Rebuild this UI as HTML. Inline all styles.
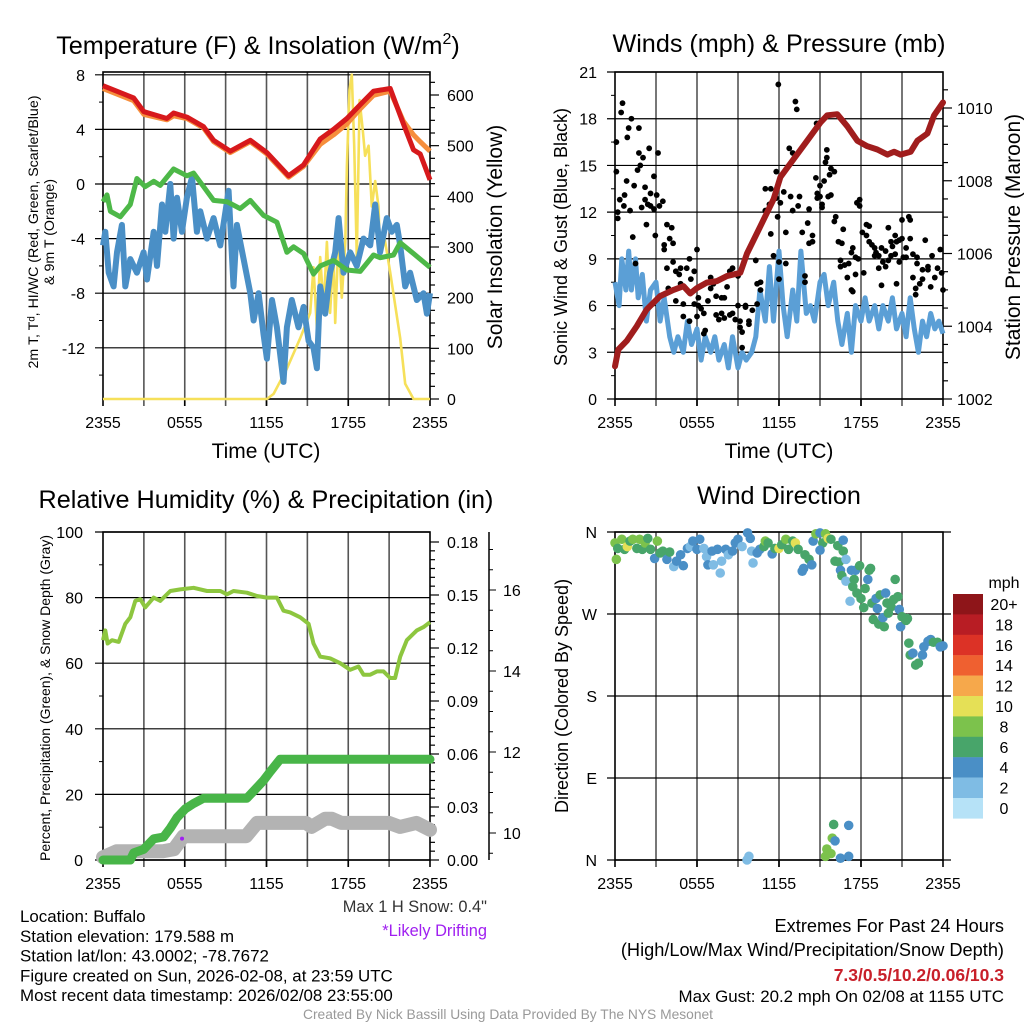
<!DOCTYPE html>
<html><head><meta charset="utf-8"><style>
html,body{margin:0;padding:0;background:#fff;}
svg{display:block;font-family:"Liberation Sans",sans-serif;}
.nar{font-family:"Liberation Sans Narrow","Liberation Sans",sans-serif;}
</style></head><body>
<svg id="fig" width="1024" height="1024" viewBox="0 0 1024 1024" xmlns="http://www.w3.org/2000/svg">
<rect x="0" y="0" width="1024" height="1024" fill="#fff"/>
<g id="root"></g>
</svg>
<script>
// ---------------- DATA ----------------
const xTickLabels = ["2355","0555","1155","1755","2355"];
// Temperature panel
const tempT = [0,2.25,3,4.69,5.18,6.16,7.38,8.12,9.34,10.81,12.03,13.62,14.72,15.94,16.92,17.9,18.88,19.85,21.08,22.05,22.79,23.28,24];
const tempV = [7.2,6.3,5.3,4.8,5.2,4.9,4.2,3.2,2.4,3.2,2.3,0.6,1.4,3.3,4.0,4.8,5.8,6.8,7.0,4.4,2.5,2.2,0.3];
const t9T = [0,2.25,3,4.69,5.18,6.16,7.38,8.12,9.34,10.81,12.03,13.62,14.72,15.94,16.92,17.9,18.88,19.85,21.08,22.05,22.79,23.28,24];
const t9V = [7.0,6.1,5.1,4.7,5.0,4.8,4.1,3.1,2.3,3.1,2.2,0.5,1.3,2.9,3.6,4.4,5.5,6.5,6.8,4.6,3.6,3.1,2.4];
const tdT = [0,0.29,0.54,1.27,2.0,2.49,3.1,3.72,4.2,5.18,6.16,6.65,7.38,8.12,9.1,10.07,10.81,11.78,12.76,13.5,13.99,14.72,15.45,15.94,16.92,17.9,18.88,19.85,20.34,21.32,21.81,22.79,24];
const tdV = [-1.3,-0.8,-2.0,-2.4,-1.5,0.4,-0.2,0.2,-0.1,1.1,0.6,0.8,-0.2,-1.2,-1.3,-1.8,-1.2,-2.3,-2.8,-5.0,-4.6,-5.1,-6.6,-6.0,-5.6,-6.3,-6.4,-5.2,-5.4,-5.2,-4.3,-5.1,-6.1];
const wcT = [0,0.17,0.42,0.78,1.03,1.39,1.64,2.0,2.49,2.98,3.23,3.72,3.96,4.33,4.57,4.94,5.18,5.43,5.79,6.16,6.53,6.89,7.14,7.63,8.12,8.61,9.22,9.58,9.83,10.32,10.81,11.05,11.42,11.78,12.03,12.4,12.76,13.25,13.5,13.86,14.35,14.72,15.09,15.45,15.7,15.94,16.31,16.67,17.04,17.29,17.65,18.14,18.63,19.12,19.61,19.98,20.34,20.83,21.2,21.56,21.81,22.18,22.54,23.03,23.52,23.77,24];
const wcV = [-4.5,-3.5,-6.5,-7.5,-5.0,-3.0,-7.5,-5.5,-6.5,-5.0,-7.0,-3.5,-6.0,-1.5,-3.5,0.0,-4.0,-1.0,-3.5,-1.0,0.5,-3.5,-2.0,-4.0,-2.5,-4.5,-0.5,-7.5,-3.0,-5.5,-8.0,-10.0,-8.0,-11.0,-12.8,-8.5,-10.5,-14.5,-10.5,-8.5,-10.5,-9.0,-11.5,-12.0,-13.5,-7.5,-9.5,-6.5,-5.0,-2.5,-6.5,-5.0,-6.0,-4.0,-4.5,-1.5,-5.0,-2.5,-3.5,-3.0,-4.5,-7.5,-6.5,-8.5,-8.0,-9.5,-8.0];
const solT = [0,12.03,12.52,13.5,14.47,15.21,15.45,15.7,15.94,16.19,16.43,16.67,16.92,17.04,17.29,17.53,17.78,17.9,18.09,18.26,18.44,18.63,18.83,19.07,19.24,19.49,19.73,19.98,20.22,20.34,20.59,21.08,21.81,22.18,22.79,24];
const solV = [0,0,10,60,120,170,260,140,280,180,310,170,290,150,320,200,310,460,610,640,500,280,590,530,480,500,380,430,380,280,330,250,120,30,0,0];
// Winds panel
const wsT = [0,0.3,0.5,0.8,1.0,1.2,1.5,1.7,2.0,2.3,2.6,3.0,3.3,3.6,4.0,4.3,4.6,5.0,5.3,5.6,6.0,6.3,6.6,7.0,7.3,7.6,8.0,8.3,8.6,9.0,9.3,9.6,10.0,10.3,10.6,11.0,11.3,11.6,12.0,12.3,12.6,13.0,13.3,13.6,14.0,14.3,14.6,15.0,15.3,15.6,16.0,16.3,16.6,17.0,17.3,17.6,18.0,18.3,18.6,19.0,19.3,19.6,20.0,20.3,20.6,21.0,21.3,21.6,21.9,22.2,22.5,22.8,23.1,23.4,23.7,24.0];
const wsV = [7.5,6,9,7,9.5,7,9,6.5,8,5,7,7.5,5,6.5,4,3,4,3,5,3.5,4.5,2.5,4,3,4,2.5,3.5,2,4,2,3,2.5,3,4,7,5,8.5,5,9.5,6,4,7,5,9.5,5.5,6,5,7.5,8,6,7.5,5,3.5,5.5,3,6,5,6.5,5,6,4.5,6,5,6.5,4.5,5.5,4,6.5,4.5,3,5,4,5.5,4.5,5,4.2];
const gustT = [0.1,0.1,0.2,0.2,0.35,0.45,0.55,0.65,0.7,0.85,0.9,1.0,1.1,1.2,1.3,1.4,1.5,1.65,1.75,1.75,1.85,1.95,2.05,2.2,2.2,2.3,2.4,2.5,2.6,2.6,2.85,2.85,2.95,3.05,3.15,3.25,3.5,3.6,3.6,3.8,3.8,3.9,4.0,4.15,4.25,4.25,4.45,4.45,4.7,4.8,4.8,5.0,5.0,5.25,5.45,5.45,5.55,5.8,5.8,6.0,6.0,6.1,6.1,6.3,6.5,6.5,6.6,6.8,7.0,7.0,7.2,7.4,7.4,7.6,7.8,7.8,8.0,8.0,8.2,8.4,8.4,8.6,8.6,8.8,9.0,9.0,9.15,9.15,9.3,9.3,9.55,9.55,9.8,9.8,10.05,10.3,10.4,10.4,10.65,10.65,11.0,11.0,11.3,11.4,11.4,11.6,11.8,11.8,11.9,12.0,12.0,11.95,12.1,12.35,12.5,12.5,12.75,12.85,13.0,13.0,13.2,13.3,13.4,13.5,13.7,13.9,13.9,14.1,14.2,14.2,14.45,14.45,14.7,14.8,14.8,14.75,15.0,15.0,15.15,15.15,15.3,15.4,15.5,15.5,15.6,15.7,15.8,15.8,16.05,16.05,16.15,16.35,16.5,16.5,16.6,16.7,16.8,17.0,17.1,17.3,17.3,17.4,17.4,17.6,17.6,17.7,17.8,17.9,17.9,18.1,18.2,18.4,18.4,18.6,18.6,18.8,19.0,19.0,19.1,19.3,19.3,19.5,19.5,19.6,19.8,19.8,20.0,20.0,20.2,20.2,20.3,20.5,20.5,20.6,20.6,20.8,20.8,21.0,21.0,21.1,21.3,21.3,21.5,21.6,21.6,21.8,21.8,22.0,22.0,22.1,22.1,22.3,22.5,22.5,22.7,22.9,22.9,23.1,23.2,23.4,23.6,23.8,23.9,24.0];
const gustV = [16.5,14.6,11.6,12,12.8,18.4,19,12.4,13.1,14,16.8,17.4,12.1,18,10.4,13.7,8.7,14.7,15.8,17.4,15,12.3,15.5,13.6,12.8,11.2,12.5,16.1,13.2,12.4,14.3,12.2,10.5,13.1,15.8,12.4,12.7,9.9,9.6,11.2,8.4,7.1,10.3,11,8.8,10,8.2,6.3,8.0,7.4,8.4,6.1,5.3,8.4,9.0,5.0,7.7,6.1,8.2,5.3,9.6,6.5,6.0,5.8,5.5,4.2,4.4,6.3,7.8,7.1,7.4,6.6,5.4,5.1,5.5,6.5,6.5,5.2,7.2,5.4,8.2,5.5,8.4,5.1,6.0,7.9,4.6,5.0,4.3,3.3,6.0,5.9,4.8,5.0,5.7,8.9,7.4,6.1,7.5,7.0,13.5,12.1,12.5,10.6,13.5,9.2,14.6,12.9,11.7,8.8,7.7,20.2,12.6,13.3,10.7,8.7,16.1,13,15.8,12.1,19.1,18.6,12.4,13,10.7,7.9,7.5,11.3,12.2,10,10.5,10.1,14.2,13.2,12.9,17.7,13.7,13,12.3,12.5,14,15.2,15.5,16,13,14.4,14.8,13.1,11.4,14.6,11.7,10.1,8.9,8.5,10,10.9,8.6,7.8,8.7,7.0,9.4,9.7,6.9,9.1,8.0,12.6,9.0,12.4,12.8,10.7,8.1,11.2,10.5,10.1,11.1,9.9,9.2,9.7,9.4,8.4,9.2,9.7,7.3,8.8,9.5,8.5,11,8.9,10.1,9.2,9.8,9.3,10.5,7.4,10.1,8.8,10.2,11.5,10.3,9.1,9.1,9.7,11.7,11.5,10.3,9.3,7.8,7.1,6.7,9.1,8.7,7.4,8.3,7.7,10.2,8.5,8.3,7.2,9.2,7.8,8.4,9.6,8.1,7.0];
const presT = [0,0.24,0.86,1.59,2.32,3.3,4.28,5.01,5.5,5.99,6.72,7.46,8.19,9.17,9.66,10.64,11.61,12.1,13.08,14.06,15.04,15.53,16.26,16.99,17.73,18.46,19.19,19.93,20.42,20.9,21.64,22.13,22.86,23.35,24];
const presV = [1002.9,1003.36,1003.6,1004.0,1004.46,1004.83,1005.0,1005.1,1004.9,1005.05,1005.2,1005.24,1005.38,1005.47,1006.0,1006.75,1007.5,1008.1,1008.6,1009.1,1009.6,1009.8,1009.83,1009.5,1009.1,1008.95,1008.86,1008.72,1008.8,1008.72,1008.8,1009.1,1009.3,1009.8,1010.15];
// RH panel
const rhT = [0,0.17,0.34,0.66,1.15,1.64,2.0,2.37,2.74,3.1,3.72,4.2,4.94,5.67,6.65,7.63,8.61,9.1,9.58,10.56,11.3,12.03,12.76,13.25,13.74,14.47,15.09,15.45,15.94,16.67,17.41,18.14,18.75,19.12,19.61,20.1,20.59,21.08,21.44,21.81,22.3,23.03,23.52,24];
const rhV = [67,70,66,67,66.5,72,74,79,79.5,77,80,79,82,82.5,83,82,82,81,82,81.5,80.5,80,80,76,75.5,74,72,66,62,61.5,60,58,59,56.5,56.5,57.5,57.5,55.5,55.5,62,67,70,71,72.5];
const prT = [0,2.0,2.25,2.98,3.72,4.45,4.94,5.43,6.04,6.65,7.38,10.56,11.05,11.78,12.27,13.0,24];
const prV = [0,0,0.004,0.006,0.012,0.013,0.018,0.024,0.029,0.032,0.035,0.035,0.039,0.045,0.05,0.057,0.057];
const snT = [0,1.0,2.2,2.6,4.4,5.2,5.9,10.5,11.3,12.0,14.9,15.3,16.3,16.8,17.5,21.0,21.8,23.0,24];
const snV = [9.4,9.55,9.55,9.55,9.55,9.6,9.92,9.92,10.25,10.25,10.25,10.15,10.35,10.35,10.25,10.25,10.15,10.25,10.08];
const driftT = [5.8];
const driftV = [6.5];
// Wind direction panel
const dirT = [0,0.1,0.2,0.5,0.7,0.9,1.1,1.3,1.6,1.8,2.0,2.2,2.4,2.6,2.9,3.1,3.3,3.5,3.8,4.0,4.3,4.5,4.8,5.0,5.3,5.5,5.7,6.0,6.2,6.5,6.7,6.8,7.1,7.2,7.5,7.7,7.8,8.1,8.3,8.6,8.8,9.0,9.3,9.7,9.9,10.0,10.1,10.4,10.6,10.9,11.0,11.2,11.5,11.7,12.0,12.2,12.5,12.7,13.0,13.2,13.4,13.7,13.8,13.9,14.2,14.4,14.5,14.7,15.0,15.2,15.0,15.4,15.6,15.8,16.1,16.3,16.4,16.5,16.6,16.7,16.7,16.9,16.9,17.2,17.3,17.5,17.6,17.4,17.7,17.9,18.0,18.2,18.3,18.5,18.6,18.7,18.8,18.9,19.1,19.2,19.3,19.4,19.6,19.7,19.8,19.9,20.0,20.2,20.4,20.5,20.7,20.8,20.9,21.0,21.3,21.4,21.5,21.6,21.8,22.0,22.2,22.5,22.6,22.9,23.1,23.3,23.6,23.8,24.0,9.66,9.8,15.4,15.5,15.8,15.9,16.1,16.0,16.5,17.1,17.1];
const dirDeg = [348,330,342,352,341,344,350,352,342,352,341,348,353,341,331,350,337,339,330,338,322,328,335,323,342,344,350,341,352,342,333,324,339,324,341,315,328,341,335,339,348,352,344,359,353,339,326,337,341,344,350,348,336,342,342,346,352,341,350,348,341,317,320,335,330,324,350,358,359,348,340,358,353,352,328,345,327,318,312,351,339,306,330,284,318,308,318,300,293,323,287,277,298,308,318,320,282,264,287,276,259,291,266,256,293,282,271,278,286,308,289,275,256,267,263,265,238,225,227,214,216,225,234,240,242,239,239,234,235,0,4,4,12,7,24,21,39,2,38,4];
const dirSpd = [8,8,6,8,6,10,6,8,6,8,6,8,6,6,4,8,6,6,4,6,2,4,4,4,4,2,4,4,4,2,2,4,4,2,4,2,2,4,2,4,4,4,2,4,4,2,2,4,4,6,8,6,4,6,10,6,8,6,6,10,6,4,4,6,6,4,4,8,4,6,4,8,10,6,6,6,6,4,6,4,6,2,2,2,4,6,4,6,6,6,6,6,6,4,6,6,6,6,4,4,6,6,4,6,4,6,6,6,6,6,6,4,4,6,6,6,6,6,4,6,6,4,4,4,4,6,6,4,4,2,2,8,8,8,8,4,6,4,4,4];
const cbLabels = ["20+","18","16","14","12","10","8","6","4","2","0"];
const cbColors = ["#8e1519","#b81d24","#dc3226","#ef6030","#f6a84b","#e5e056","#7cc24c","#48a56a","#4a8fc6","#7fbce4","#b6e2f7"];

// ---------------- HELPERS ----------------
const NS = "http://www.w3.org/2000/svg";
const root = document.getElementById("root");
function mk(tag, attrs, parent) {
  const e = document.createElementNS(NS, tag);
  for (const k in attrs) e.setAttribute(k, attrs[k]);
  (parent || root).appendChild(e);
  return e;
}
function txt(s, x, y, size, anchor, parent, extra) {
  const e = mk("text", Object.assign({x: x, y: y, "font-size": size, "text-anchor": anchor || "start", fill: "#000"}, extra || {}), parent);
  e.textContent = s;
  return e;
}
function lin(d0, d1, r0, r1) { return v => r0 + (v - d0) / (d1 - d0) * (r1 - r0); }

const PX0 = 103, PX1 = 430, QX0 = 615, QX1 = 943;
const xL = lin(0, 24, PX0, PX1);
const xR = lin(0, 24, QX0, QX1);

function frame(g, x0, x1, y0, y1, name) {
  for (let h = 3; h < 24; h += 3) {
    const x = x0 + h / 24 * (x1 - x0);
    const l = mk("line", {x1: x, x2: x, y1: y0, y2: y1 + 7, stroke: "#555", "stroke-width": 1.6}, g);
    
    
  }
  const r = mk("rect", {x: x0, y: y0, width: x1 - x0, height: y1 - y0, fill: "none", stroke: "#000", "stroke-width": 1.6}, g);
  
  
  xTickLabels.forEach((s, i) => {
    const x = x0 + i * 6 / 24 * (x1 - x0);
    const tk = mk("line", {x1: x, x2: x, y1: y1, y2: y1 + 7, stroke: "#000", "stroke-width": 1.6}, g);
    
    
    const t = txt(s, x, y1 + 29, 16, "middle", g);
    
    
  });
}
function hgrid(g, x0, x1, y, lx, label, size) {
  const l = mk("line", {x1: x0 - 8, x2: x1, y1: y, y2: y, stroke: "#000", "stroke-width": 1.2}, g);
  
  
  const t = txt(label, lx, y + 6, size || 16, "end", g);
  
  
}
function rtick(g, x, y, label, lx, long) {
  const l = mk("line", {x1: x, x2: x + (long ? 9 : 5), y1: y, y2: y, stroke: "#000", "stroke-width": 1.2}, g);
  
  
  if (label !== null) {
    const t = txt(label, lx, y + 6, 16, "start", g);
    
    
  }
}
function pathFrom(T, V, xs, ys) {
  return T.map((t, i) => (i ? "L" : "M") + xs(t).toFixed(1) + "," + ys(V[i]).toFixed(1)).join(" ");
}
function rotText(s, x, y, size, g) {
  return txt(s, 0, 0, size, "middle", g, {transform: "translate(" + x + "," + y + ") rotate(-90)"});
}

// ---------------- PANEL 1: Temperature ----------------
(function () {
  const g = mk("g", {});
  
  
  const Y0 = 72, Y1 = 399;
  const yT = lin(0, 4, 184, 129.4);
  const yS = lin(0, 600, 399, 95);
  frame(g, PX0, PX1, Y0, Y1, "temperature");
  [8, 4, 0, -4, -8, -12].forEach(v => hgrid(g, PX0, PX1, yT(v), 85, String(v)));
  for (let v = -14; v <= 6; v += 4) {
    const m = mk("line", {x1: PX0 - 4, x2: PX0, y1: yT(v), y2: yT(v), stroke: "#000"}, g);
    
    
  }
  for (let v = 0; v <= 625; v += 25) rtick(g, PX1, yS(v), v % 100 === 0 ? String(v) : null, 447, v % 100 === 0);
  const sol = mk("path", {d: pathFrom(solT, solV, xL, yS), fill: "none", stroke: "#f6e05a", "stroke-width": 2.6, "stroke-linejoin": "round"}, g);
  
  
  const wc = mk("path", {d: pathFrom(wcT, wcV, xL, yT), fill: "none", stroke: "#4a8fc6", "stroke-width": 6, "stroke-linejoin": "round"}, g);
  
  
  const td = mk("path", {d: pathFrom(tdT, tdV, xL, yT), fill: "none", stroke: "#4db848", "stroke-width": 5, "stroke-linejoin": "round"}, g);
  
  
  const t9 = mk("path", {d: pathFrom(t9T, t9V, xL, yT), fill: "none", stroke: "#f68e3c", "stroke-width": 5, "stroke-linejoin": "round"}, g);
  
  
  const t2 = mk("path", {d: pathFrom(tempT, tempV, xL, yT), fill: "none", stroke: "#d7191c", "stroke-width": 5, "stroke-linejoin": "round"}, g);
  
  
  const ti = txt("Temperature (F) & Insolation (W/m", 258, 54, 25.2, "middle", g);
  
  
  const sp = mk("tspan", {dy: -10, "font-size": 16}, ti); sp.textContent = "2";
  const sp2 = mk("tspan", {dy: 10}, ti); sp2.textContent = ")";
  const a1 = rotText("2m T, T\u1D48, HI/WC (Red, Green, Scarlet/Blue)", 38, 232, 14.2, g);
  
  
  const a2 = rotText("& 9m T (Orange)", 54, 232, 14.2, g);
  
  
  const a3 = rotText("Solar Insolation (Yellow)", 502, 237, 21, g);
  
  
  const xt = txt("Time (UTC)", 266, 458, 21, "middle", g);
  
  
})();

// ---------------- PANEL 2: Winds ----------------
(function () {
  const g = mk("g", {});
  
  
  const Y0 = 72, Y1 = 399;
  const yW = lin(0, 21, 399, 72);
  const yP = lin(1002, 1010, 399, 108);
  frame(g, QX0, QX1, Y0, Y1, "winds");
  [21, 18, 15, 12, 9, 6, 3, 0].forEach(v => hgrid(g, QX0, QX1, yW(v), 597, String(v)));
  for (let v = 1.5; v < 21; v += 3) {
    const m = mk("line", {x1: QX0 - 4, x2: QX0, y1: yW(v), y2: yW(v), stroke: "#000"}, g);
    
    
  }
  for (let v = 1002; v <= 1010.9; v += 0.5) rtick(g, QX1, yP(v), v % 2 === 0 ? String(v) : null, 957, v % 2 === 0);
  const ws = mk("path", {d: pathFrom(wsT, wsV, xR, yW), fill: "none", stroke: "#5b9fd6", "stroke-width": 5, "stroke-linejoin": "round"}, g);
  
  
  gustT.forEach((t, i) => {
    const c = mk("circle", {cx: xR(t), cy: yW(gustV[i]), r: 2.9, fill: "#000"}, g);
    
    
  });
  const pr = mk("path", {d: pathFrom(presT, presV, xR, yP), fill: "none", stroke: "#a01d1d", "stroke-width": 6, "stroke-linejoin": "round", "stroke-linecap": "round"}, g);
  
  
  const ti = txt("Winds (mph) & Pressure (mb)", 779, 52, 25.2, "middle", g);
  
  
  const a1 = rotText("Sonic Wind & Gust (Blue, Black)", 567, 237, 18, g);
  
  
  const a2 = rotText("Station Pressure (Maroon)", 1020, 237, 21, g);
  
  
  const xt = txt("Time (UTC)", 779, 458, 21, "middle", g);
  
  
})();

// ---------------- PANEL 3: RH ----------------
(function () {
  const g = mk("g", {});
  
  
  const Y0 = 532, Y1 = 860;
  const yR = lin(0, 100, 860, 532);
  const yPr = lin(0, 0.18, 860, 542);
  const ySn = lin(10, 16, 833, 590);
  frame(g, PX0, PX1, Y0, Y1, "humidity");
  [100, 80, 60, 40, 20, 0].forEach(v => hgrid(g, PX0, PX1, yR(v), 83, String(v)));
  for (let v = 10; v < 100; v += 20) {
    const m = mk("line", {x1: PX0 - 4, x2: PX0, y1: yR(v), y2: yR(v), stroke: "#000"}, g);
    
    
  }
  for (let k = 0; k <= 36; k++) {
    const v = k * 0.005;
    rtick(g, PX1, yPr(v), k % 6 === 0 ? v.toFixed(2) : null, 447, k % 6 === 0);
  }
  const ax = mk("line", {x1: 489, x2: 489, y1: 532, y2: 860, stroke: "#000", "stroke-width": 1.5}, g);
  
  
  for (let v = 9.5; v <= 17.5; v += 0.5) {
    const y = ySn(v);
    if (y < 532 || y > 860) continue;
    const isMaj = v % 2 === 0;
    const tk = mk("line", {x1: 489, x2: isMaj ? 496 : 493, y1: y, y2: y, stroke: "#000"}, g);
    
    
    if (isMaj) {
      const t = txt(String(v), 503, y + 6, 16, "start", g);
      
      
    }
  }
  const sn = mk("path", {d: pathFrom(snT, snV, xL, ySn), fill: "none", stroke: "#b3b3b3", "stroke-width": 14, "stroke-linejoin": "round", "stroke-linecap": "round"}, g);
  
  
  const pr = mk("path", {d: pathFrom(prT, prV, xL, yPr), fill: "none", stroke: "#48b548", "stroke-width": 9, "stroke-linejoin": "round", "stroke-linecap": "round"}, g);
  
  
  const rh = mk("path", {d: pathFrom(rhT, rhV, xL, yR), fill: "none", stroke: "#8dc63f", "stroke-width": 4, "stroke-linejoin": "round"}, g);
  
  
  driftT.forEach((t, i) => {
    const d = mk("circle", {cx: xL(t), cy: yR(driftV[i]), r: 2, fill: "#a020f0"}, g);
    
    
  });
  const ti = txt("Relative Humidity (%) & Precipitation (in)", 266, 508, 25.2, "middle", g);
  
  
  const a1 = rotText("Percent, Precipitation (Green), & Snow Depth (Gray)", 50, 698, 14, g);
  
  
})();

// ---------------- PANEL 4: Wind direction ----------------
(function () {
  const g = mk("g", {});
  
  
  const Y0 = 532, Y1 = 860;
  const yD = lin(0, 360, 860, 532);
  frame(g, QX0, QX1, Y0, Y1, "wind-direction");
  [[360, "N"], [270, "W"], [180, "S"], [90, "E"], [0, "N"]].forEach(p => {
    const l = mk("line", {x1: QX0 - 8, x2: QX1 + 8, y1: yD(p[0]), y2: yD(p[0]), stroke: "#000", "stroke-width": 1.2}, g);
    
    
    const t = txt(p[1], 597, yD(p[0]) + 6, 16, "end", g);
    
    
  });
  dirT.forEach((t, i) => {
    const idx = Math.min(10, Math.floor(dirSpd[i] / 2));
    const c = mk("circle", {cx: xR(t), cy: yD(dirDeg[i]), r: 4.8, fill: cbColors[10 - idx]}, g);
    
    
  });
  const ti = txt("Wind Direction", 779, 504, 25.2, "middle", g);
  
  
  const a1 = rotText("Direction (Colored By Speed)", 568, 696, 18, g);
  
  
  const cb = mk("g", {}, g);
  
  
  const mph = txt("mph", 1004, 588, 16, "middle", cb);
  
  
  cbLabels.forEach((s, i) => {
    const y = 594 + i * 20.4;
    const r = mk("rect", {x: 953, y: y, width: 30, height: 20.6, fill: cbColors[i]}, cb);
    
    
    const t = txt(s, 1004, y + 16, 16, "middle", cb);
    
    
  });
})();

// ---------------- FOOTER ----------------
(function () {
  const g = mk("g", {"class": "nar"});
  
  
  const left = ["Location: Buffalo", "Station elevation: 179.588 m", "Station lat/lon: 43.0002; -78.7672", "Figure created on Sun, 2026-02-08, at 23:59 UTC", "Most recent data timestamp: 2026/02/08 23:55:00"];
  left.forEach((s, i) => {
    const t = txt(s, 20, 922 + i * 19.8, 16.9, "start", g);
    
    
  });
  const s1 = txt("Max 1 H Snow: 0.4\"", 487, 912, 16.4, "end", g, {fill: "#333"});
  
  
  const s2 = txt("*Likely Drifting", 487, 936, 16.4, "end", g, {fill: "#a020f0"});
  
  
  const r1 = txt("Extremes For Past 24 Hours", 1004, 932, 18.2, "end", g);
  
  
  const r2 = txt("(High/Low/Max Wind/Precipitation/Snow Depth)", 1004, 956, 18.2, "end", g);
  
  
  const r3 = txt("7.3/0.5/10.2/0.06/10.3", 1004, 981, 17.5, "end", g, {fill: "#c8202a", "font-weight": "bold"});
  
  
  const r4 = txt("Max Gust: 20.2 mph On 02/08 at 1155 UTC", 1004, 1002, 16.9, "end", g);
  
  
  const c = txt("Created By Nick Bassill Using Data Provided By The NYS Mesonet", 508, 1019, 13.8, "middle", g, {fill: "#999"});
  
  
})();
</script>
</body></html>
